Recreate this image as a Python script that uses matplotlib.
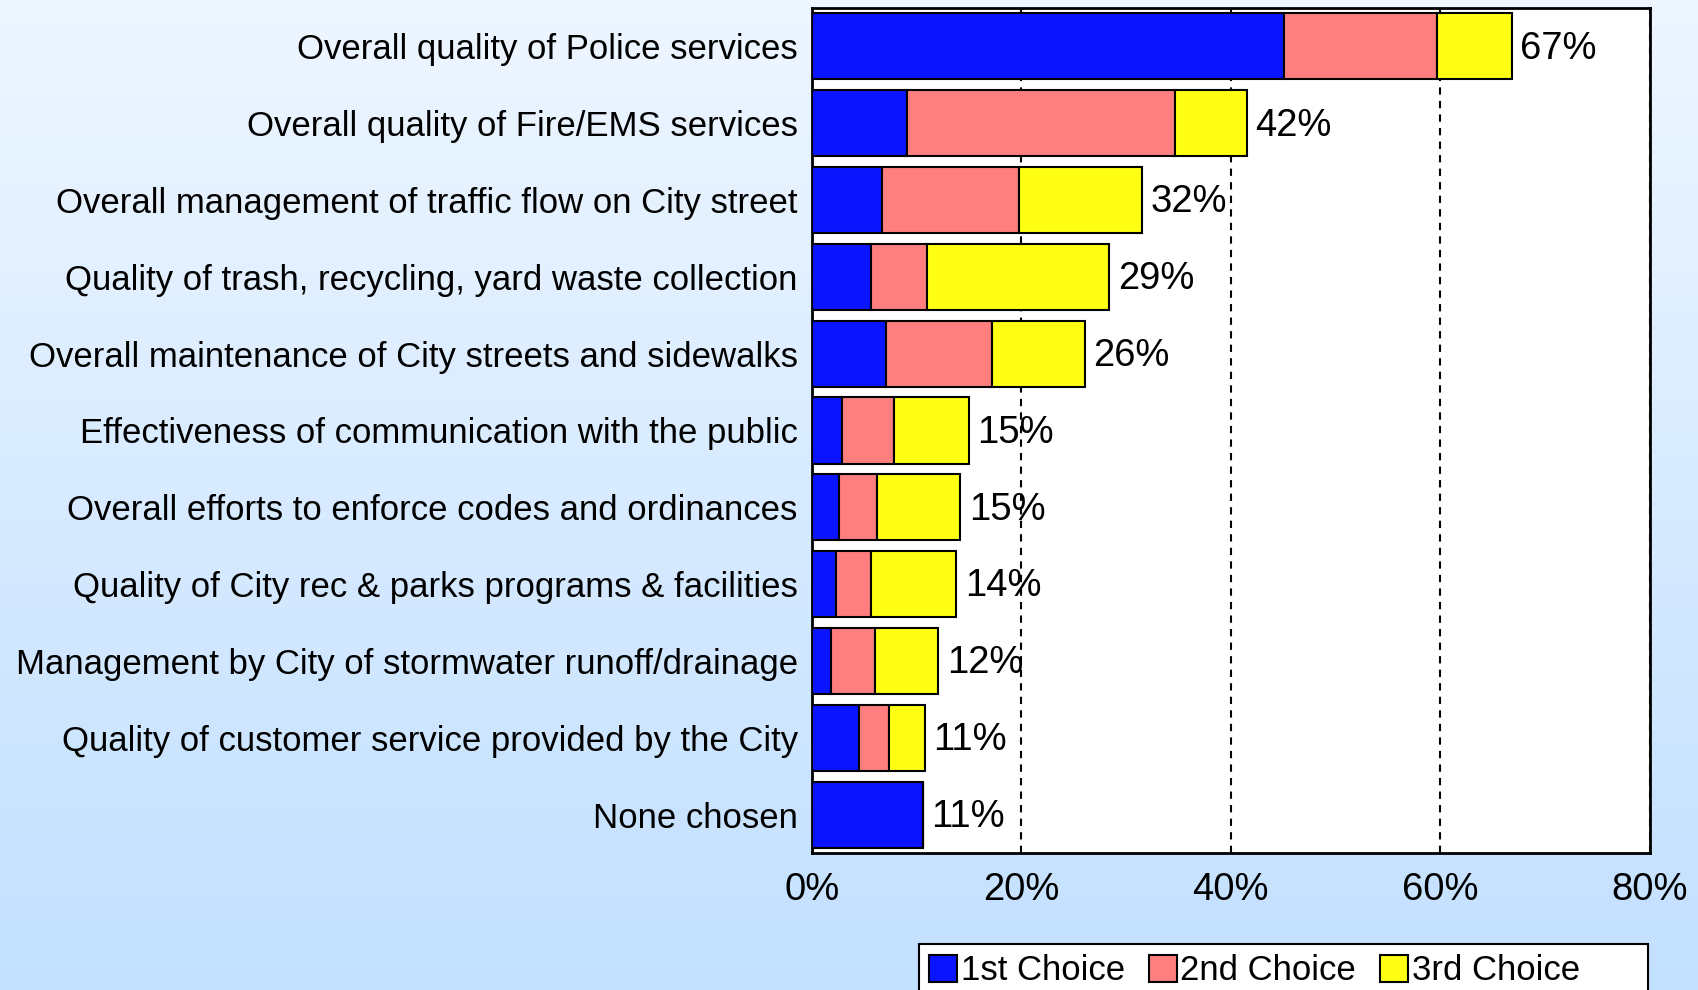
import matplotlib.pyplot as plt
import numpy as np

# Categories (top to bottom)
categories = [
    'Overall quality of Police services',
    'Overall quality of Fire/EMS services',
    'Overall management of traffic flow on City street',
    'Quality of trash, recycling, yard waste collection',
    'Overall maintenance of City streets and sidewalks',
    'Effectiveness of communication with the public',
    'Overall efforts to enforce codes and ordinances',
    'Quality of City rec & parks programs & facilities',
    'Management by City of stormwater runoff/drainage',
    'Quality of customer service provided by the City',
    'None chosen',
]

# Percent of respondents for each choice
first_choice = [45.1, 9.1, 6.7, 5.7, 7.1, 2.9, 2.6, 2.3, 1.8, 4.5, 10.6]
second_choice = [14.6, 25.6, 13.1, 5.3, 10.1, 5.0, 3.6, 3.4, 4.2, 2.9, 0.0]
third_choice = [7.1, 6.8, 11.7, 17.4, 8.9, 7.1, 8.0, 8.1, 6.1, 3.4, 0.0]

# Total labels as shown on the chart
total_labels = ['67%', '42%', '32%', '29%', '26%', '15%', '15%', '14%', '12%', '11%', '11%']

x_ticks = [0, 20, 40, 60, 80]
x_tick_labels = ['0%', '20%', '40%', '60%', '80%']

plt.rcParams['font.family'] = ['Liberation Sans', 'DejaVu Sans']

fig = plt.figure(figsize=(16.98, 9.9), dpi=100)

# Background gradient (light at top, blue at bottom)
bg = fig.add_axes([0, 0, 1, 1], zorder=-1)
top_col = np.array([238, 246, 255]) / 255
bottom_col = np.array([194, 224, 255]) / 255
t = np.linspace(0, 1, 256)[:, None]
grad = (1 - t) * top_col + t * bottom_col
bg.imshow(grad[:, None, :], aspect='auto', extent=[0, 1, 0, 1])
bg.axis('off')

ax = fig.add_axes([811.7 / 1698, 1 - 853 / 990, (1650 - 811.7) / 1698, (853 - 8) / 990])
ax.set_facecolor('white')

y = np.arange(len(categories))
h = 0.86
second_left = np.array(first_choice)
third_left = second_left + np.array(second_choice)
totals = third_left + np.array(third_choice)

ax.barh(y, first_choice, height=h, color='#0A14FF', edgecolor='black', linewidth=1.5, label='1st Choice', zorder=3)
ax.barh(y, second_choice, left=second_left, height=h, color='#FF7F7F', edgecolor='black', linewidth=1.5, label='2nd Choice', zorder=3)
ax.barh(y, third_choice, left=third_left, height=h, color='#FFFF14', edgecolor='black', linewidth=1.5, label='3rd Choice      ', zorder=3)

# Total labels to the right of bars
for yi, tot, lab in zip(y, totals, total_labels):
    ax.text(tot + 0.8, yi + 0.03, lab, va='center', ha='left', fontsize=27.5, zorder=4)

ax.set_xlim(0, 80)
ax.set_ylim(len(categories) - 0.5, -0.5)
ax.set_yticks(y)
ax.set_yticklabels(categories, fontsize=25)
ax.set_xticks(x_ticks)
ax.set_xticklabels(x_tick_labels, fontsize=27.5)
ax.tick_params(axis='both', length=0)
ax.tick_params(axis='y', pad=10)
ax.tick_params(axis='x', pad=14)

# Dashed vertical gridlines
ax.xaxis.grid(True, color='black', linestyle=(0, (3.5, 3)), linewidth=1.5, zorder=1)
ax.set_axisbelow(True)
for sp in ax.spines.values():
    sp.set_linewidth(2)
    sp.set_color('black')

leg = fig.legend(loc='upper left', bbox_to_anchor=(919 / 1698, 1 - 944 / 990),
                 ncol=3, fontsize=25, frameon=True, fancybox=False,
                 handlelength=0.8, handleheight=0.8, handletextpad=0.1,
                 columnspacing=0.7, borderpad=0.3, borderaxespad=0)
leg.get_frame().set_edgecolor('black')
leg.get_frame().set_linewidth(1.5)
leg.get_frame().set_facecolor('white')
leg.get_frame().set_alpha(1)

fig.savefig('out.png', dpi=100)
